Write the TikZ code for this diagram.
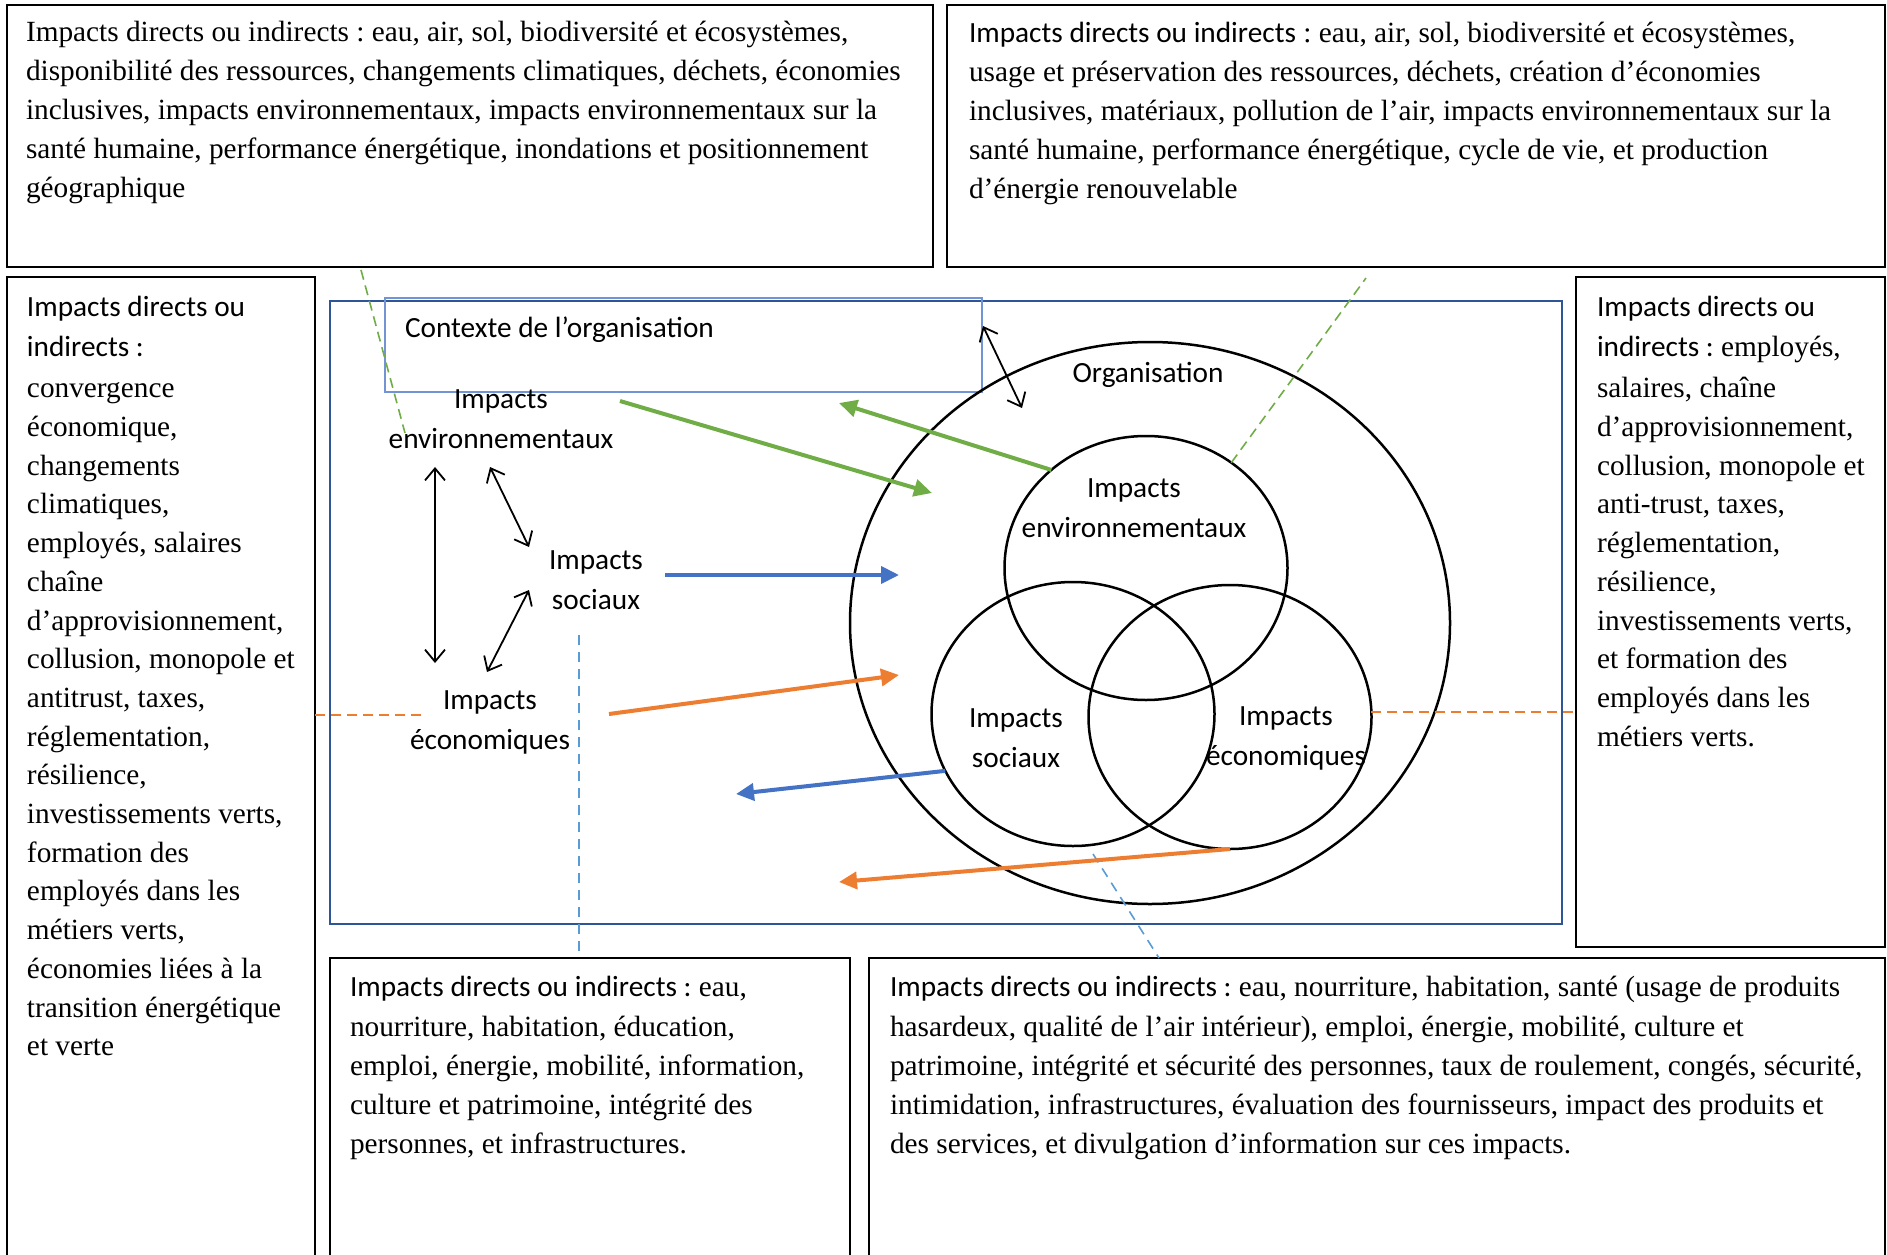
\documentclass[tikz,border=0pt]{standalone}
\usepackage{fontspec}
\setmainfont{Liberation Serif}
\newfontfamily\calfont{Carlito}
\usetikzlibrary{arrows.meta,shapes.geometric}
\definecolor{gr}{RGB}{112,173,71}
\definecolor{bl}{RGB}{68,114,196}
\definecolor{orr}{RGB}{237,125,49}
\definecolor{frameblue}{RGB}{47,85,151}
\definecolor{ctxblue}{RGB}{114,148,212}
\definecolor{dashblue}{RGB}{91,155,213}
\newcommand{\boxfont}{\fontsize{29.3}{38.7}\selectfont\raggedright}
\frenchspacing
\begin{document}
\frenchspacing
\begin{tikzpicture}[x=1pt,y=-1pt,
  box/.style={draw=black,line width=1.5pt,inner sep=0pt,outer sep=0pt,anchor=north west},
  circ/.style={draw=black,line width=2.5pt,ellipse,inner sep=0pt,outer sep=0pt},
  lbl/.style={font=\calfont\fontsize{29.3}{40}\selectfont,align=center,inner sep=0pt},
  txt/.style={anchor=base west,inner sep=0pt,outer sep=0pt},
  carrow/.style={line width=4pt,-{Triangle[length=18pt,width=17pt]}},
  darrow/.style={line width=1.8pt,{Straight Barb[length=12pt,width=20pt]}-{Straight Barb[length=12pt,width=20pt]}},
  gdash/.style={gr,line width=1.6pt,dash pattern=on 10pt off 6pt},
  odash/.style={orr,line width=1.6pt,dash pattern=on 10pt off 6pt},
  bdash/.style={dashblue,line width=1.6pt,dash pattern=on 10pt off 7pt}]
\useasboundingbox (0,0) rectangle (1887,1255);

\begin{scope}
\clip (0,0) rectangle (1887,1255);
\node[box,minimum width=926pt,minimum height=262pt] (tl) at (7,5) {};
\node[box,minimum width=938pt,minimum height=262pt] (tr) at (947,5) {};
\node[box,minimum width=308pt,minimum height=1000pt] (lbox) at (7,277) {};
\node[box,minimum width=309pt,minimum height=670pt] (rbox) at (1576,277) {};
\node[box,minimum width=520pt,minimum height=400pt] (blbox) at (330,958) {};
\node[box,minimum width=1016pt,minimum height=400pt] (brbox) at (869,958) {};
\end{scope}

% box texts
\node[txt] (tlt) at (26,42) {\parbox[t]{920pt}{\fontsize{29.3}{38.8}\selectfont\raggedright
Impacts directs ou indirects : eau, air, sol, biodiversité et écosystèmes,\\
disponibilité des ressources, changements climatiques, déchets, économies\\
inclusives, impacts environnementaux, impacts environnementaux sur la\\
santé humaine, performance énergétique, inondations et positionnement\\
géographique}};

\node[txt] (trt) at (969,43) {\parbox[t]{920pt}{\fontsize{29.3}{38.8}\selectfont\raggedright
{\calfont Impacts directs ou indirects} : eau, air, sol, biodiversité et écosystèmes,\\
usage et préservation des ressources, déchets, création d’économies\\
inclusives, matériaux, pollution de l’air, impacts environnementaux sur la\\
santé humaine, performance énergétique, cycle de vie, et production\\
d’énergie renouvelable}};

\node[txt] (lt) at (27,316) {\parbox[t]{300pt}{\boxfont
{\calfont Impacts directs ou}\\[2.2pt]
{\calfont indirects :}\\[2.2pt]
convergence\\
économique,\\
changements\\
climatiques,\\
employés, salaires\\
chaîne\\
d’approvisionnement,\\
collusion, monopole et\\
antitrust, taxes,\\
réglementation,\\
résilience,\\
investissements verts,\\
formation des\\
employés dans les\\
métiers verts,\\
économies liées à la\\
transition énergétique\\
et verte}};

\node[txt] (rt) at (1597,316) {\parbox[t]{300pt}{\boxfont
{\calfont Impacts directs ou}\\[2.2pt]
{\calfont indirects :} employés,\\[2.2pt]
salaires, chaîne\\
d’approvisionnement,\\
collusion, monopole et\\
anti-trust, taxes,\\
réglementation,\\
résilience,\\
investissements verts,\\
et formation des\\
employés dans les\\
métiers verts.}};

\node[txt] (blt) at (350,996) {\parbox[t]{600pt}{\boxfont
{\calfont Impacts directs ou indirects :} eau,\\[2.2pt]
nourriture, habitation, éducation,\\
emploi, énergie, mobilité, information,\\
culture et patrimoine, intégrité des\\
personnes, et infrastructures.}};

\node[txt] (brt) at (890,996) {\parbox[t]{1100pt}{\boxfont
{\calfont Impacts directs ou indirects :} eau, nourriture, habitation, santé (usage de produits\\[2.2pt]
hasardeux, qualité de l’air intérieur), emploi, énergie, mobilité, culture et\\
patrimoine, intégrité et sécurité des personnes, taux de roulement, congés, sécurité,\\
intimidation, infrastructures, évaluation des fournisseurs, impact des produits et\\
des services, et divulgation d’information sur ces impacts.}};

% frame and context
\node[box,draw=frameblue,line width=2.8pt,minimum width=1232pt,minimum height=623pt] (frame) at (330,301) {};
\node[box,draw=ctxblue,line width=1.6pt,minimum width=597pt,minimum height=94pt] (ctx) at (385,298) {};
\node[txt,font=\calfont\fontsize{29.3}{36}\selectfont] (ctxt) at (405,337) {Contexte de l’organisation};

% circles
\node[circ,minimum width=600pt,minimum height=562pt] (org) at (1150,623) {};
\node[circ,minimum width=283pt,minimum height=264pt] (env) at (1146,568) {};
\node[circ,minimum width=283pt,minimum height=264pt] (soc) at (1073,714) {};
\node[circ,minimum width=283pt,minimum height=264pt] (eco) at (1230,717) {};

\node[lbl] (orgt) at (1148,374.5) {Organisation};
\node[lbl] (envt) at (1134,508.5) {Impacts\\environnementaux};
\node[lbl] (soct) at (1016,738.5) {Impacts\\sociaux};
\node[lbl] (ecot) at (1286,738) {Impacts\\économiques};

\node[lbl] (len) at (501,419) {Impacts\\environnementaux};
\node[lbl] (lso) at (596,580) {Impacts\\sociaux};
\node[lbl] (lec) at (490,722) {Impacts\\économiques};

% coordinates
\coordinate (g1s) at (620,401);
\coordinate (g1e) at (932,493);
\coordinate (g2e) at (839,403);
\coordinate (b1s) at (665,575);
\coordinate (b1e) at (899,575);
\coordinate (o1s) at (609,714);
\coordinate (o1e) at (899,675);
\coordinate (b2e) at (736,794);
\coordinate (o2e) at (839,882);
\coordinate (ca) at (983,326);
\coordinate (cb) at (1022,408);
\coordinate (v1a) at (435,467);
\coordinate (v1b) at (435,663);
\coordinate (v2a) at (490,467);
\coordinate (v2b) at (529,547);
\coordinate (v3a) at (529,590);
\coordinate (v3b) at (487,672);
\coordinate (gd1s) at (361,270);
\coordinate (gd1e) at (405,433);
\coordinate (gd2s) at (1366,278);
\coordinate (od1) at (421,715);
\coordinate (od2) at (1371,712);
\coordinate (bd1) at (579,635);
\coordinate (bd2s) at (1093,854);
\coordinate (bd2e) at (1159,958);

% dashed leaders
\draw[gdash] (gd1s) -- (gd1e);
\draw[gdash] (env.51) -- (gd2s);
\draw[odash] (od1) -- (od1 -| lbox.east);
\draw[odash] (od2) -- (od2 -| rbox.west);
\draw[bdash] (bd1) -- (bd1 |- blbox.north);
\draw[bdash] (bd2s) -- (bd2e);

% coloured arrows
\draw[carrow,gr] (g1s) -- (g1e);
\draw[carrow,gr] (env.134) -- (g2e);
\draw[carrow,bl] (b1s) -- (b1e);
\draw[carrow,orr] (o1s) -- (o1e);
\draw[carrow,bl] (soc.204) -- (b2e);
\draw[carrow,orr] (eco.south) -- (o2e);

% black double arrows
\draw[darrow] (ca) -- (cb);
\draw[darrow] (v1a) -- (v1b);
\draw[darrow] (v2a) -- (v2b);
\draw[darrow] (v3a) -- (v3b);
\end{tikzpicture}
\end{document}
